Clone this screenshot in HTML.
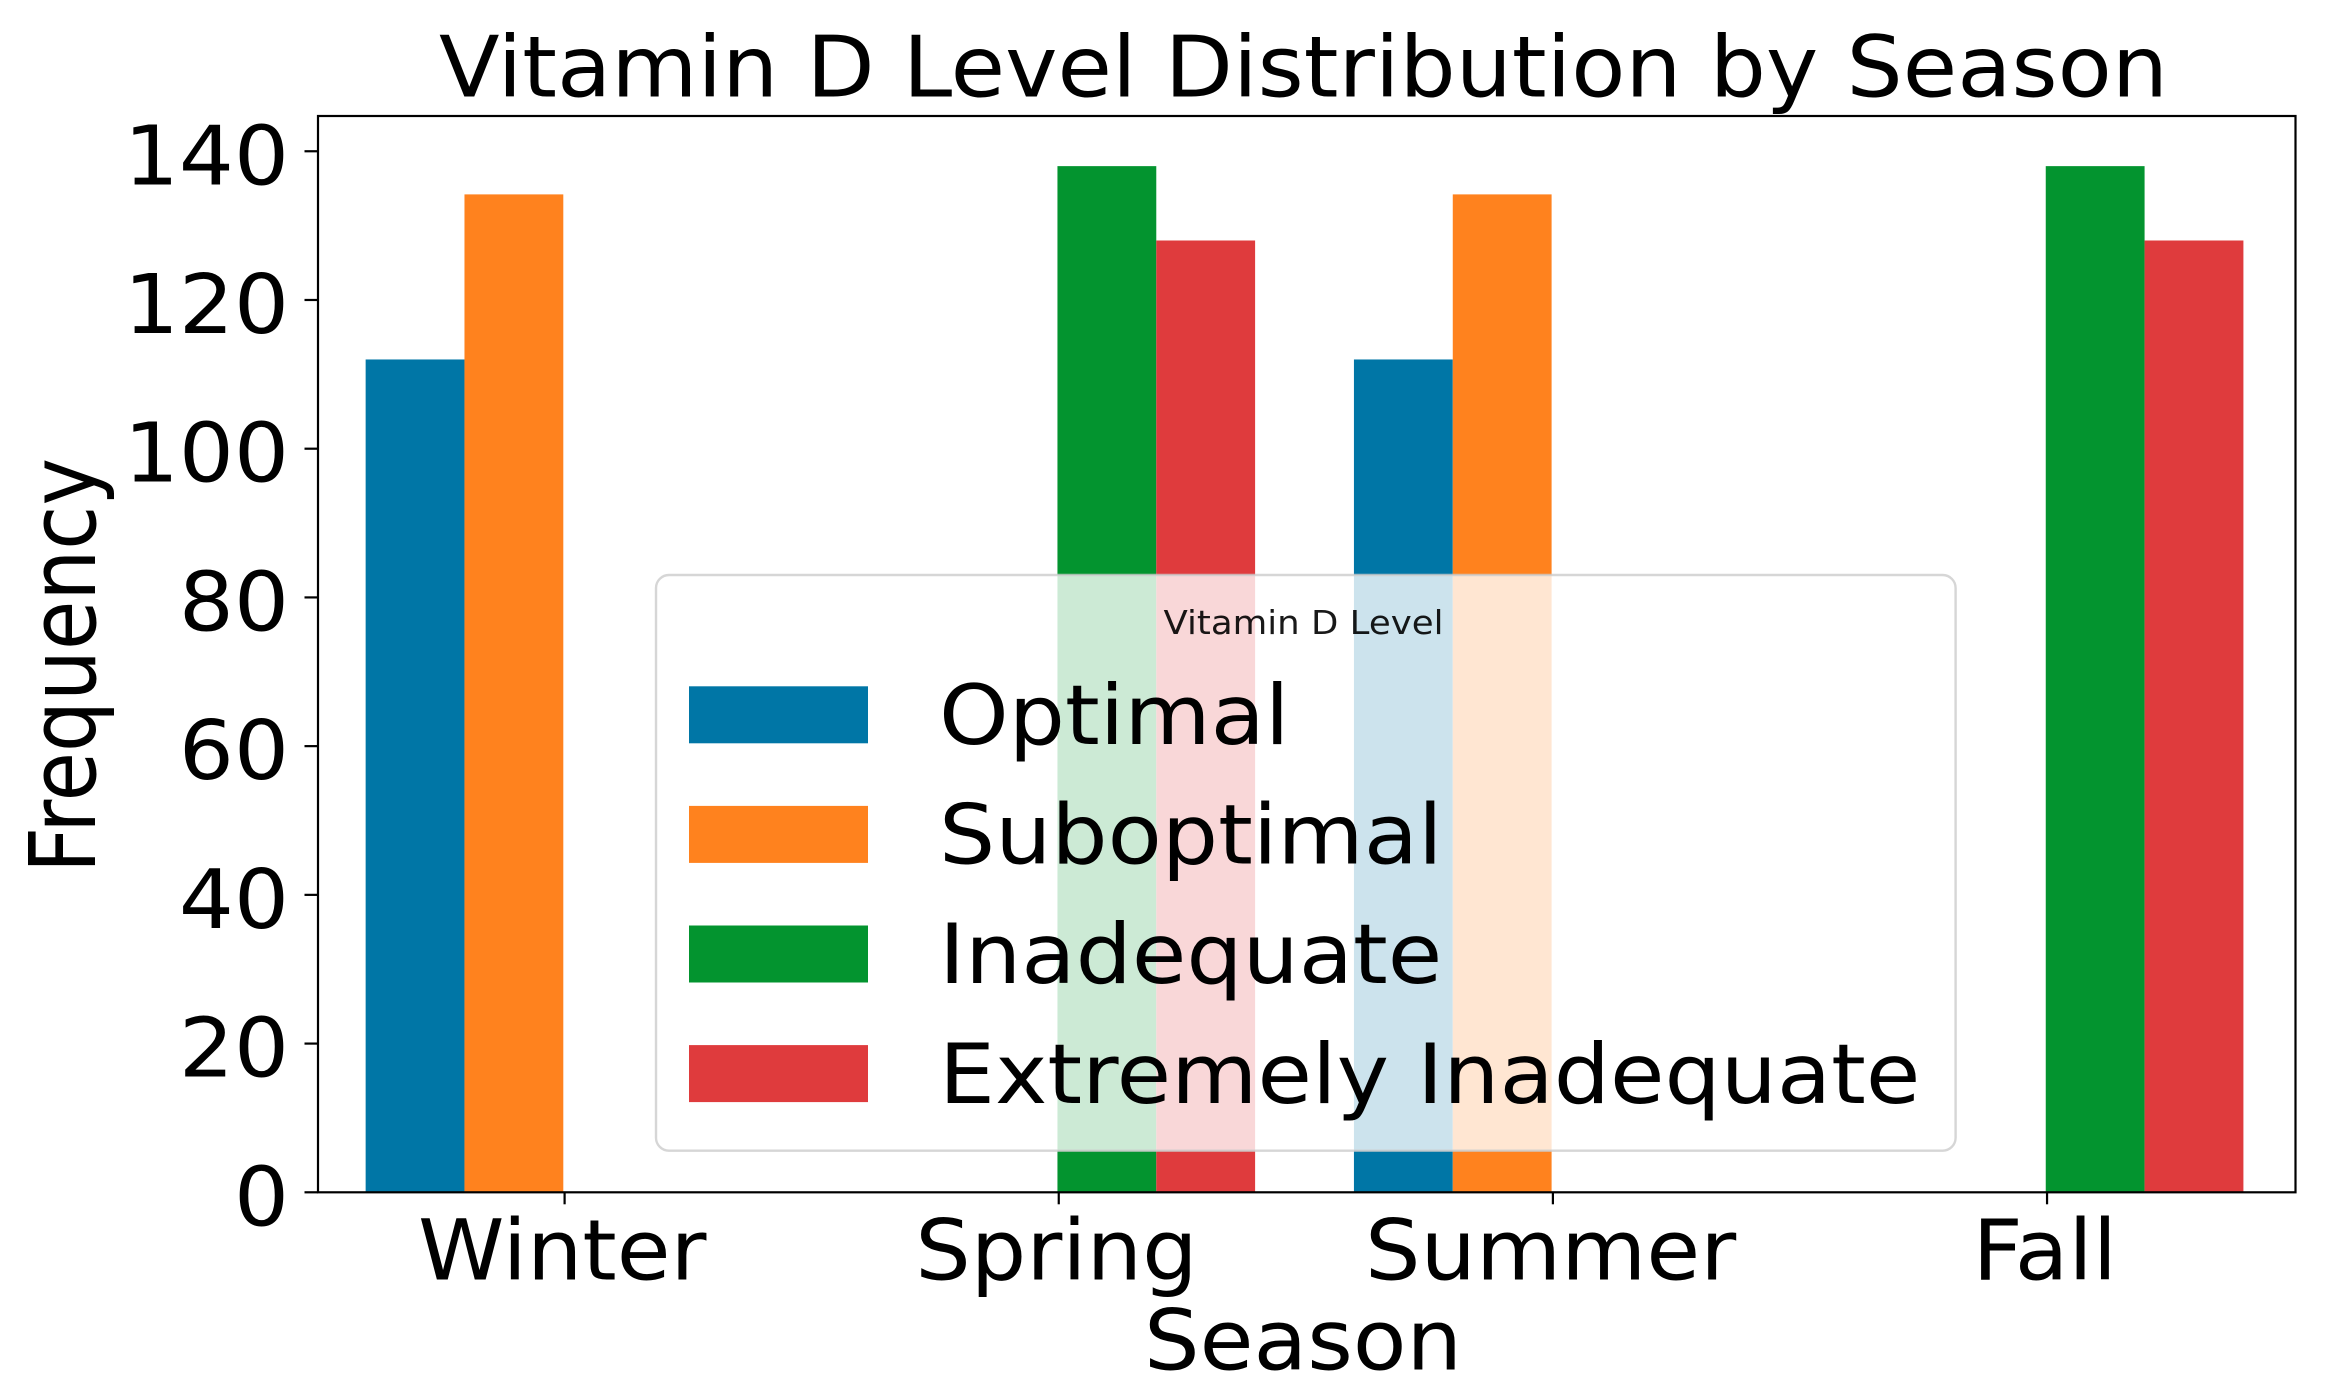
<!DOCTYPE html>
<html lang="en">
<head>
<meta charset="utf-8">
<title>Vitamin D Level Distribution by Season</title>
<style>
  html, body { margin: 0; padding: 0; background: #ffffff; }
  body { width: 2331px; height: 1392px; overflow: hidden; }
  svg { display: block; }
  text { font-family: "DejaVu Sans", "Liberation Sans", sans-serif; fill: #000000; }
</style>
</head>
<body>
<svg id="chart" xmlns="http://www.w3.org/2000/svg" width="2331" height="1392" viewBox="0 0 2331 1392">
  <rect x="0" y="0" width="2331" height="1392" fill="#ffffff"/>
  <g id="bars"></g>
  <rect x="318" y="116" width="1977.5" height="1076.3" fill="none" stroke="#000000" stroke-width="2.2"/>
  <g id="y-axis"></g>
  <g id="x-axis"></g>
  <text x="439" y="96.7" font-size="84.6" textLength="1729" lengthAdjust="spacingAndGlyphs">Vitamin D Level Distribution by Season</text>
  <text x="1303" y="1369.5" font-size="84" text-anchor="middle" textLength="318" lengthAdjust="spacingAndGlyphs">Season</text>
  <text transform="translate(95 665.5) rotate(-90)" x="0" y="0" font-size="91.5" text-anchor="middle" textLength="415" lengthAdjust="spacingAndGlyphs">Frequency</text>
  <g id="legend">
    <rect x="656" y="575" width="1299.6" height="575.7" rx="13" ry="13" fill="#ffffff" fill-opacity="0.8" stroke="#cccccc" stroke-opacity="0.8" stroke-width="2.4"/>
    <text x="1303.5" y="634" font-size="33" text-anchor="middle" fill-opacity="0.9" textLength="280" lengthAdjust="spacingAndGlyphs">Vitamin D Level</text>
  </g>
</svg>
<script>
const seasons = ['Winter', 'Spring', 'Summer', 'Fall'];
const seriesNames = ['Optimal', 'Suboptimal', 'Inadequate', 'Extremely Inadequate'];
const optimalValues = [112, 0, 112, 0];
const suboptimalValues = [134.2, 0, 134.2, 0];
const inadequateValues = [0, 138, 0, 138];
const extremelyInadequateValues = [0, 128, 0, 128];
const yTickLabels = [0, 20, 40, 60, 80, 100, 120, 140];

const allSeries = [optimalValues, suboptimalValues, inadequateValues, extremelyInadequateValues];
const seriesColors = ['#0076A6', '#FF821E', '#03942F', '#DF3B3D'];
const SVG_NS = 'http://www.w3.org/2000/svg';
const BAR_WIDTH = 0.2;

function xScale(position) { return 563.3 + position * 494.15; }
function yScale(value) { return 1192.3 - value * 7.436; }

function slug(name) { return name.toLowerCase().replace(/\s+/g, '-'); }

function makeRect(parent, x, y, width, height, fill) {
  const r = document.createElementNS(SVG_NS, 'rect');
  r.setAttribute('x', x);
  r.setAttribute('y', y);
  r.setAttribute('width', width);
  r.setAttribute('height', height);
  r.setAttribute('fill', fill);
  parent.appendChild(r);
  return r;
}

function makeText(parent, content, x, y, fontSize, anchor, stretch) {
  const t = document.createElementNS(SVG_NS, 'text');
  t.setAttribute('x', x);
  t.setAttribute('y', y);
  t.setAttribute('font-size', fontSize);
  t.setAttribute('text-anchor', anchor);
  t.textContent = content;
  parent.appendChild(t);
  const natural = t.getComputedTextLength();
  t.setAttribute('textLength', natural * stretch);
  t.setAttribute('lengthAdjust', 'spacingAndGlyphs');
  return t;
}

const barsGroup = document.getElementById('bars');
allSeries.forEach(function (values, s) {
  values.forEach(function (value, c) {
    const left = xScale(c + (s - 2) * BAR_WIDTH);
    const right = xScale(c + (s - 1) * BAR_WIDTH);
    const bar = makeRect(barsGroup, left, yScale(value), right - left, yScale(0) - yScale(value), seriesColors[s]);
    
    
  });
});

const yAxisGroup = document.getElementById('y-axis');
yTickLabels.forEach(function (label) {
  const tick = makeRect(yAxisGroup, 304.5, yScale(label) - 1.1, 13.5, 2.2, '#000000');
  
  
  const text = makeText(yAxisGroup, String(label), 289, yScale(label) + 33, 82, 'end', 86.5 / 82);
  
  
});

const xAxisGroup = document.getElementById('x-axis');
seasons.forEach(function (season, c) {
  const tick = makeRect(xAxisGroup, xScale(c) + 0.2, 1192.3, 2.2, 12, '#000000');
  
  
  const text = makeText(xAxisGroup, season, xScale(c) - 1, 1279.3, 84, 'middle', 87.5 / 84);
  
  
});

const legendGroup = document.getElementById('legend');
seriesNames.forEach(function (name, s) {
  const top = 686.3 + s * 119.6;
  const swatch = makeRect(legendGroup, 689, top, 179, 57, seriesColors[s]);
  
  
  const text = makeText(legendGroup, name, 939, 744 + s * 119.6, 83, 'start', 88.6 / 83);
  
  
});
</script>
</body>
</html>
